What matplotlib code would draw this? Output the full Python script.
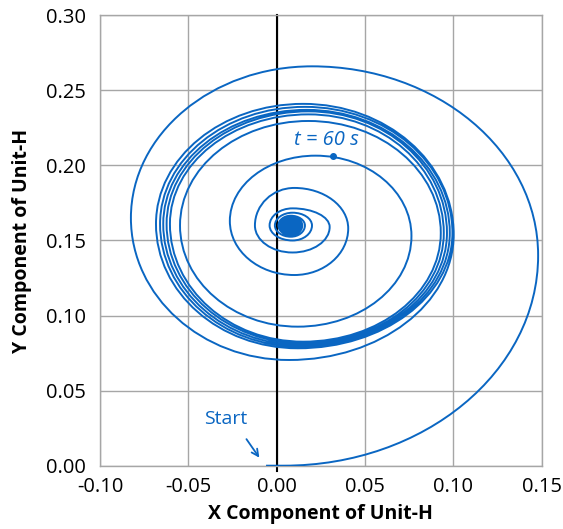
import matplotlib.pyplot as plt
from matplotlib.path import Path
from matplotlib.patches import PathPatch

# Tip of unit-H vector: start point, then the turning points of the spiral
# in order bottom -> right -> top -> left -> bottom ...
start_x, start_y = -0.006, 0.0
turn_x = [0.004, 0.148, 0.020, -0.0825,
          0.007, 0.1002, 0.015, -0.0683,
          0.012, 0.0995, 0.016, -0.066,
          0.013, 0.098, 0.017, -0.0642,
          0.014, 0.0964, 0.018, -0.0623,
          0.015, 0.0946, 0.018, -0.0604,
          0.015, 0.0929, 0.018, -0.0547,
          0.012, 0.0763, 0.022, -0.0265,
          0.010, 0.0405, 0.010, -0.0123,
          0.009, 0.030, 0.009, -0.004,
          0.009, 0.020, 0.009, -0.001,
          0.008, 0.016, 0.008, 0.001,
          0.008, 0.0145, 0.008, 0.002,
          0.008, 0.0135, 0.008, 0.0025,
          0.008, 0.0128, 0.008, 0.003,
          0.008, 0.0122, 0.008, 0.0035,
          0.008, 0.0116, 0.008, 0.004,
          0.008, 0.011, 0.008, 0.005,
          0.008, 0.0102, 0.008, 0.006,
          0.008, 0.0095, 0.008, 0.0068,
          0.008, 0.0088, 0.008, 0.0074,
          0.008, 0.0083]
turn_y = [0.0, 0.140, 0.266, 0.165,
          0.0704, 0.154, 0.241, 0.161,
          0.0782, 0.155, 0.239, 0.161,
          0.0793, 0.155, 0.237, 0.161,
          0.0804, 0.155, 0.236, 0.161,
          0.0815, 0.155, 0.234, 0.161,
          0.0826, 0.155, 0.2296, 0.160,
          0.0926, 0.153, 0.2065, 0.163,
          0.127, 0.158, 0.185, 0.160,
          0.142, 0.159, 0.1714, 0.160,
          0.150, 0.160, 0.1685, 0.160,
          0.1525, 0.160, 0.1665, 0.160,
          0.1535, 0.160, 0.1658, 0.160,
          0.1545, 0.160, 0.1652, 0.160,
          0.1552, 0.160, 0.1646, 0.160,
          0.1558, 0.160, 0.1640, 0.160,
          0.1564, 0.160, 0.1634, 0.160,
          0.1572, 0.160, 0.1626, 0.160,
          0.1580, 0.160, 0.1618, 0.160,
          0.1588, 0.160, 0.1612, 0.160,
          0.1594, 0.160, 0.1606, 0.160,
          0.1598, 0.160]

# marked instant on the trajectory
t60_x, t60_y = 0.032, 0.2062

blue = "#0A66C2"
K = 0.5523  # bezier factor for a quarter ellipse

# -----------------------------
# Build the trajectory as a bezier path through the turning points
# -----------------------------
verts = [(start_x, start_y), (turn_x[0], turn_y[0])]
codes = [Path.MOVETO, Path.LINETO]
for i in range(len(turn_x) - 1):
    px, py = turn_x[i], turn_y[i]
    qx, qy = turn_x[i + 1], turn_y[i + 1]
    if i % 2 == 0:  # bottom/top: horizontal tangent
        c1 = (px + K * (qx - px), py)
        c2 = (qx, qy + K * (py - qy))
    else:  # right/left: vertical tangent
        c1 = (px, py + K * (qy - py))
        c2 = (qx + K * (px - qx), qy)
    verts += [c1, c2, (qx, qy)]
    codes += [Path.CURVE4] * 3

fig = plt.figure(figsize=(5.63, 5.29), dpi=100)
ax = fig.add_axes([0.1776, 0.1197, 0.7845, 0.8514])

ax.add_patch(PathPatch(Path(verts, codes), facecolor="none",
                       edgecolor=blue, lw=1.4, zorder=3))
ax.plot([t60_x], [t60_y], "o", color=blue, ms=4, zorder=4)

ax.set_xlim(-0.10, 0.15)
ax.set_ylim(0.0, 0.30)
ax.set_xticks([-0.10, -0.05, 0.0, 0.05, 0.10, 0.15])
ax.set_yticks([0.0, 0.05, 0.10, 0.15, 0.20, 0.25, 0.30])
ax.set_xticklabels([f"{v:.2f}" for v in ax.get_xticks()])
ax.set_yticklabels([f"{v:.2f}" for v in ax.get_yticks()])

font = "Open Sans"
for lab in ax.get_xticklabels() + ax.get_yticklabels():
    lab.set_fontfamily(font)
    lab.set_fontsize(14.5)
ax.tick_params(length=0, pad=10)
ax.tick_params(axis="x", pad=8)

ax.grid(True, color="#A6A6A6", lw=1.0, zorder=1)
for s in ax.spines.values():
    s.set_color("#A6A6A6")
    s.set_linewidth(1.0)

# value axis through x = 0
ax.plot([0, 0], [-0.0035, 0.30], color="black", lw=1.5, zorder=2,
        clip_on=False)

ax.set_xlabel("X Component of Unit-H", fontfamily=font, fontweight="bold",
              fontsize=14, labelpad=5)
ax.set_ylabel("Y Component of Unit-H", fontfamily=font, fontweight="bold",
              fontsize=14, labelpad=10)

ax.text(0.028, 0.2168, "t = 60 s", color=blue, fontfamily=font,
        style="italic", fontsize=14.5, ha="center", va="center")
ax.text(-0.0287, 0.0309, "Start", color=blue, fontfamily=font,
        fontsize=14, ha="center", va="center")
ax.annotate("", xy=(-0.0089, 0.0038), xytext=(-0.018, 0.0192),
            arrowprops=dict(arrowstyle="->", color=blue, lw=1.3,
                            mutation_scale=12))

fig.savefig("out.png", dpi=100)
